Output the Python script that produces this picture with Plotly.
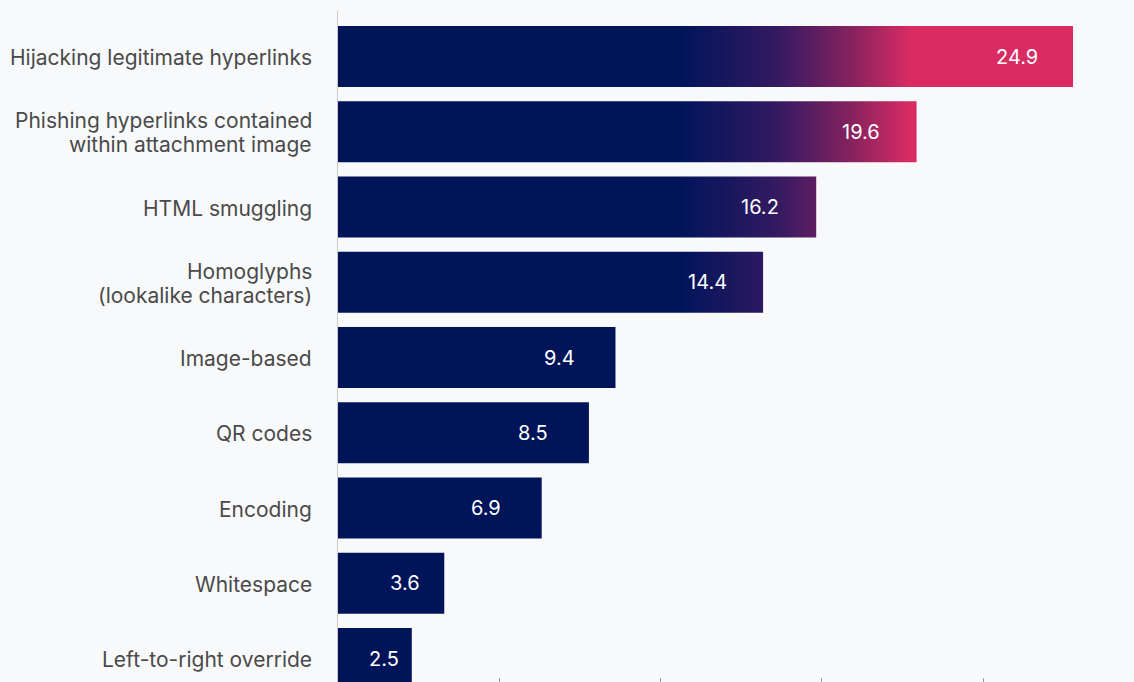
import plotly.graph_objects as go

categories = [
    "Hijacking legitimate hyperlinks",
    "Phishing hyperlinks contained<br>within attachment image",
    "HTML smuggling",
    "Homoglyphs<br>(lookalike characters)",
    "Image-based",
    "QR codes",
    "Encoding",
    "Whitespace",
    "Left-to-right override",
]
values = [24.9, 19.6, 16.2, 14.4, 9.4, 8.5, 6.9, 3.6, 2.5]

NAVY = "#00145a"
PINK = "#d92b62"
BG = "#f8f9fb"
grad_scale = [[0.0, NAVY], [0.43, "#361a62"], [0.74, "#85225f"], [1.0, PINK]]
GRAD_START, GRAD_STOP = 11.6, 19.4
BAR_H = 0.81
TICK_STEP = 5.464
LINE_GAP = 24
LABEL_FONT = dict(family="Inter, sans-serif", size=21, color="#4a4a4a")

fig = go.Figure()
for k, (cat, v) in enumerate(zip(categories, values)):
    y0, y1 = k - BAR_H / 2, k + BAR_H / 2
    fig.add_trace(go.Scatter(
        x=[0, v, v, 0, 0],
        y=[y0, y0, y1, y1, y0],
        mode="lines",
        line=dict(width=0, color=NAVY),
        fill="toself",
        fillcolor=NAVY,
        fillgradient=dict(type="horizontal", colorscale=grad_scale,
                          start=GRAD_START, stop=GRAD_STOP),
        hoverinfo="skip",
        showlegend=False,
    ))
    fig.add_annotation(
        x=max(v - 1.9, 0.63 * v), y=k, text=f"{v:.1f}",
        showarrow=False, xanchor="center", yanchor="middle",
        font=dict(family="Inter, sans-serif", size=20, color="white"),
    )
    lines = cat.split("<br>")
    n = len(lines)
    for j, line in enumerate(lines):
        fig.add_annotation(
            x=0, y=k, text=line, showarrow=False,
            xanchor="right", yanchor="middle", xshift=-24,
            yshift=((n - 1) / 2 - j) * LINE_GAP - 1,
            font=LABEL_FONT,
        )

fig.update_layout(
    width=1134, height=682,
    margin=dict(l=338, r=0, t=11, b=0),
    paper_bgcolor=BG,
    plot_bgcolor=BG,
    font=LABEL_FONT,
)
fig.update_xaxes(
    range=[0, 26.965],
    showgrid=False, zeroline=False, showline=False,
    tickvals=[TICK_STEP * i for i in range(1, 5)],
    ticks="inside", ticklen=4, tickcolor="#9a9a9a",
    showticklabels=False,
)
fig.update_yaxes(
    range=[8.312, -0.6047],
    tickvals=list(range(len(categories))),
    showticklabels=False,
    showgrid=False, zeroline=False,
    showline=True, linecolor="#c8c8c8", linewidth=1,
    layer="below traces",
    ticks="",
)

fig.write_html(
    "out.html",
    config={"displayModeBar": False},
    post_script="document.body.style.margin='0';document.body.style.overflow='hidden';"
                "document.body.style.background='" + BG + "';",
)
